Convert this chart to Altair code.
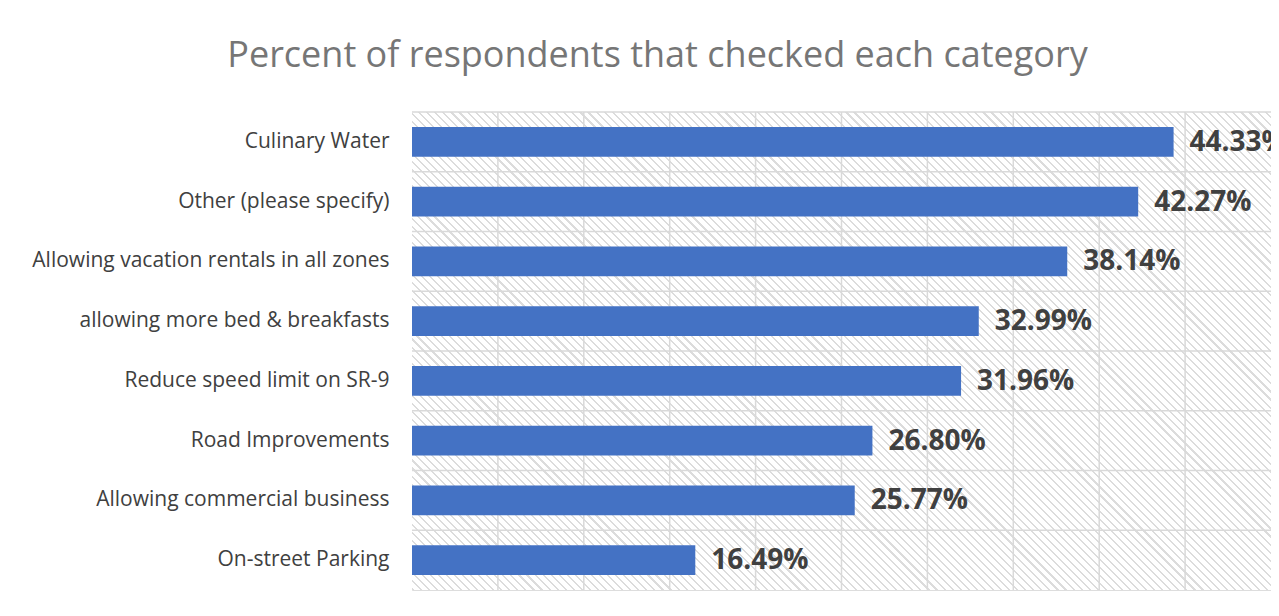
import altair as alt
import pandas as pd

categories = [
    "Culinary Water",
    "Other (please specify)",
    "Allowing vacation rentals in all zones",
    "allowing more bed & breakfasts",
    "Reduce speed limit on SR-9",
    "Road Improvements",
    "Allowing commercial business",
    "On-street Parking",
]
values = [44.33, 42.27, 38.14, 32.99, 31.96, 26.80, 25.77, 16.49]
x_ticks = [5, 10, 15, 20, 25, 30, 35, 40, 45]

W, H = 859, 478
FONT = "Open Sans"
STEP = H / len(categories)

df = pd.DataFrame({"cat": categories, "value": values})
ticks_df = pd.DataFrame({"t": x_ticks})
cats_df = pd.DataFrame({"cat": categories})

# diagonal hatch as a striped linear gradient (style only)
diag = (W + H) / 2 ** 0.5
period = 5.7
stripe = 1.5
stops = []
k = 0
while k * period < diag:
    a = k * period / diag
    b = min((k * period + stripe) / diag, 1.0)
    c = min(((k + 1) * period) / diag, 1.0)
    stops += [
        alt.GradientStop(offset=a, color="#dcdcdc"),
        alt.GradientStop(offset=b, color="#dcdcdc"),
        alt.GradientStop(offset=b, color="#ffffff"),
        alt.GradientStop(offset=c, color="#ffffff"),
    ]
    k += 1
du = 1.0
dv = -H / W
s = (1 - dv) / (du * du + dv * dv)
grad = alt.LinearGradient(
    gradient="linear", stops=stops, x1=0, y1=1, x2=du * s, y2=1 + dv * s
)

xscale = alt.Scale(domain=[0, 50], nice=False)
yscale = alt.Scale(domain=categories, paddingInner=0.5, paddingOuter=0.25)
yaxis = alt.Axis(
    title=None,
    ticks=False,
    domain=False,
    grid=False,
    labelFont=FONT,
    labelFontSize=21,
    labelColor="#404040",
    labelPadding=23,
    labelLimit=400,
)

bg = (
    alt.Chart(alt.Data(values=[{"a": 1}]))
    .mark_rect(fill=grad, strokeWidth=0)
    .encode(
        x=alt.value(0), x2=alt.value("width"), y=alt.value(0), y2=alt.value("height")
    )
)

vrules = (
    alt.Chart(ticks_df)
    .mark_rule(color="#d9d9d9", strokeWidth=1.5)
    .encode(
        x=alt.X("t:Q", scale=xscale, axis=None),
        y=alt.value(0),
        y2=alt.value("height"),
    )
)

hrules = (
    alt.Chart(cats_df)
    .mark_rule(color="#d9d9d9", strokeWidth=1.5, yOffset=-STEP * 0.25)
    .encode(
        y=alt.Y("cat:N", scale=yscale, sort=categories, bandPosition=0, axis=yaxis),
        x=alt.value(0),
        x2=alt.value("width"),
    )
)

bars = (
    alt.Chart(df)
    .mark_bar(color="#4472C4")
    .encode(
        x=alt.X("value:Q", scale=xscale, axis=None),
        y=alt.Y("cat:N", scale=yscale, sort=categories, axis=yaxis),
    )
)

labels = (
    alt.Chart(df)
    .transform_calculate(label="format(datum.value, '.2f') + '%'")
    .mark_text(
        align="left",
        baseline="middle",
        dx=16,
        dy=1,
        font=FONT,
        fontSize=28,
        fontWeight="bold",
        color="#404040",
    )
    .encode(
        x=alt.X("value:Q", scale=xscale, axis=None),
        y=alt.Y("cat:N", scale=yscale, sort=categories, axis=yaxis),
        text="label:N",
    )
)

chart = (
    alt.layer(bg, vrules, hrules, bars, labels)
    .properties(
        width=W,
        height=H,
        autosize=alt.AutoSizeParams(type="none"),
        padding={"left": 404, "top": 104, "right": 0, "bottom": 10},
        title=alt.TitleParams(
            "Percent of respondents that checked each category",
            font=FONT,
            fontSize=36,
            fontWeight="normal",
            color="#767676",
            anchor="middle",
            baseline="alphabetic",
            offset=8,
            dx=-184,
        ),
    )
    .configure_view(stroke="#d9d9d9", strokeWidth=1.5)
    .configure(background="white")
)

chart.save("out.html", embed_options={"renderer": "svg", "actions": False})
